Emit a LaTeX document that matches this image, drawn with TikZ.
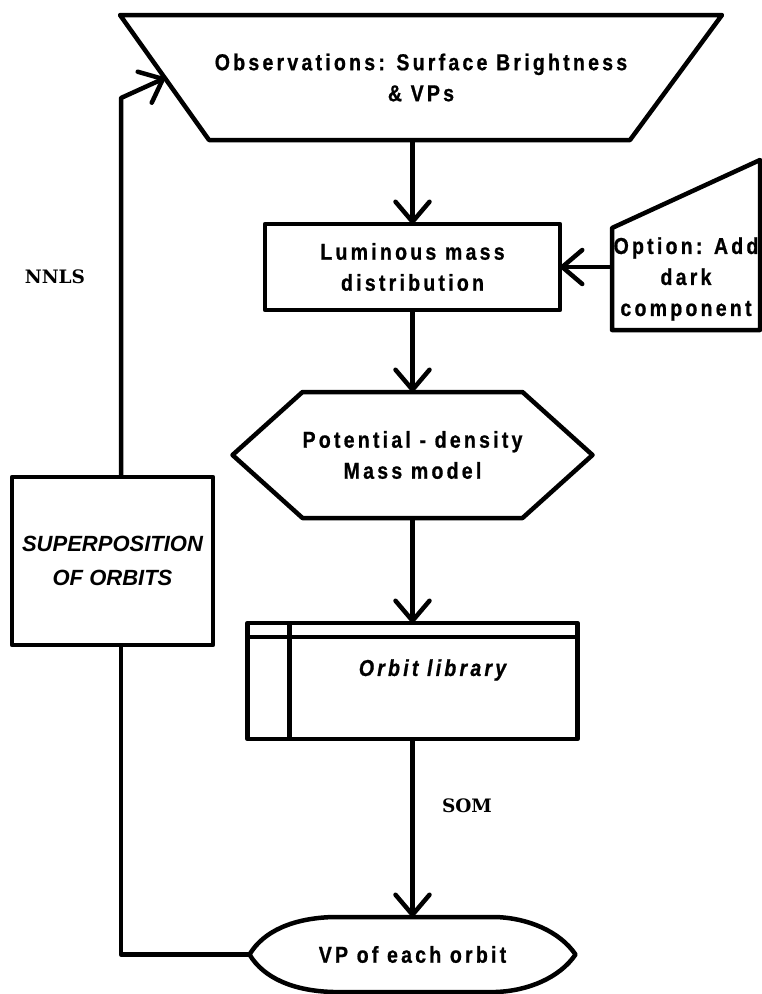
\documentclass[tikz,border=0pt]{standalone}
\usepackage{fontspec}
\usepackage{tikz}
\usetikzlibrary{arrows.meta,positioning}
\newfontfamily\boxfont[FakeStretch=0.85,LetterSpace=14,FakeBold=0.8,
   UprightFont={Liberation Sans Bold},ItalicFont={Liberation Sans Bold Italic}]{Liberation Sans}
\newfontfamily\supfont{Liberation Sans}
\newfontfamily\lblfont{DejaVu Serif}

\begin{document}
\begin{tikzpicture}[x=1pt, y=-1pt, line width=4.5pt, line join=round,
    node distance=188pt, on grid,
    >={Straight Barb[length=20pt,width=34pt,round]},
    txt/.style={inner sep=0pt, outer sep=0pt, align=center,
      font=\boxfont\fontsize{23}{31}\selectfont},
    itxt/.style={txt, font=\boxfont\itshape\fontsize{23}{31}\selectfont},
    box/.style={txt, draw},
    lbl/.style={inner sep=0pt, font=\lblfont\bfseries\fontsize{18.5}{20}\selectfont}]
   \useasboundingbox (0,0) rectangle (761,994);
   \node[txt, minimum width=602pt, minimum height=125pt] (obs) at (421,77.5)
      {Observations: Surface Brightness\\\& VPs};
   \node[box, minimum width=295pt, minimum height=86pt] (lum) at (412.5,267)
      {Luminous mass\\distribution};
   \node[txt, minimum width=148pt, minimum height=102pt] (opt) at (686,279)
      {Option: Add\\dark\\component};
   \node[txt, minimum width=360pt, minimum height=126pt] (hex) [below=188pt of lum]
      {Potential - density\\Mass model};
   \node[box, minimum width=330pt, minimum height=116pt] (lib) [below=226pt of hex] {};
   \node[itxt] (libtext) at ([shift={(20,-11)}]lib.center) {Orbit library};
   \node[txt, minimum width=326pt, minimum height=75pt] (vp) [below=273.5pt of lib]
      {VP of each orbit};
   \node[box, minimum width=201pt, minimum height=168pt,
      font=\supfont\bfseries\itshape\fontsize{22}{34}\selectfont] (sup) at (112.5,561)
      {SUPERPOSITION\\OF ORBITS};
   \node[lbl] (nnls) at (55,277) {NNLS};
   \node[lbl] (som) at (467,806) {SOM};

   % outlines
   \draw (obs.north west) -- (obs.north east) -- ([xshift=-92pt]obs.south east)
      -- ([xshift=89pt]obs.south west) -- cycle;
   \draw (opt.south west) -- (opt.north west) -- ([yshift=68pt]opt.north east)
      -- (opt.south east) -- cycle;
   \draw (hex.west) -- ([xshift=70pt]hex.north west) -- ([xshift=-70pt]hex.north east)
      -- (hex.east) -- ([xshift=-70pt]hex.south east) -- ([xshift=70pt]hex.south west) -- cycle;
   \draw ([yshift=-14pt]lib.north west) -- ([yshift=-14pt]lib.north east);
   \draw ([xshift=42pt]lib.north west) -- ([xshift=42pt]lib.south west);
   \draw (vp.west) .. controls ([shift={(14,14)}]vp.north west) and ([shift={(44,1)}]vp.north west)
      .. ([shift={(84,0)}]vp.north west) -- ([shift={(-80,0)}]vp.north east)
      .. controls ([shift={(-48,1)}]vp.north east) and ([shift={(-16,14)}]vp.north east) .. (vp.east)
      .. controls ([shift={(-16,-14)}]vp.south east) and ([shift={(-48,-1)}]vp.south east)
      .. ([shift={(-80,0)}]vp.south east) -- ([shift={(84,0)}]vp.south west)
      .. controls ([shift={(44,-1)}]vp.south west) and ([shift={(14,-14)}]vp.south west) .. (vp.west);

   % connectors
   \path[->] (obs.south -| lum.north) edge (lum.north)
             (opt.west |- lum.east) edge (lum.east)
             (lum.south) edge (hex.north)
             (hex.south) edge (lib.north)
             (lib.south) edge (vp.north);
   \coordinate (turn) at (121,98);
   \coordinate (hit) at (165,78);
   \draw (vp.west) -| (sup.south -| turn);
   \draw[->] (sup.north -| turn) -- (turn) -- (hit);
\end{tikzpicture}
\end{document}
